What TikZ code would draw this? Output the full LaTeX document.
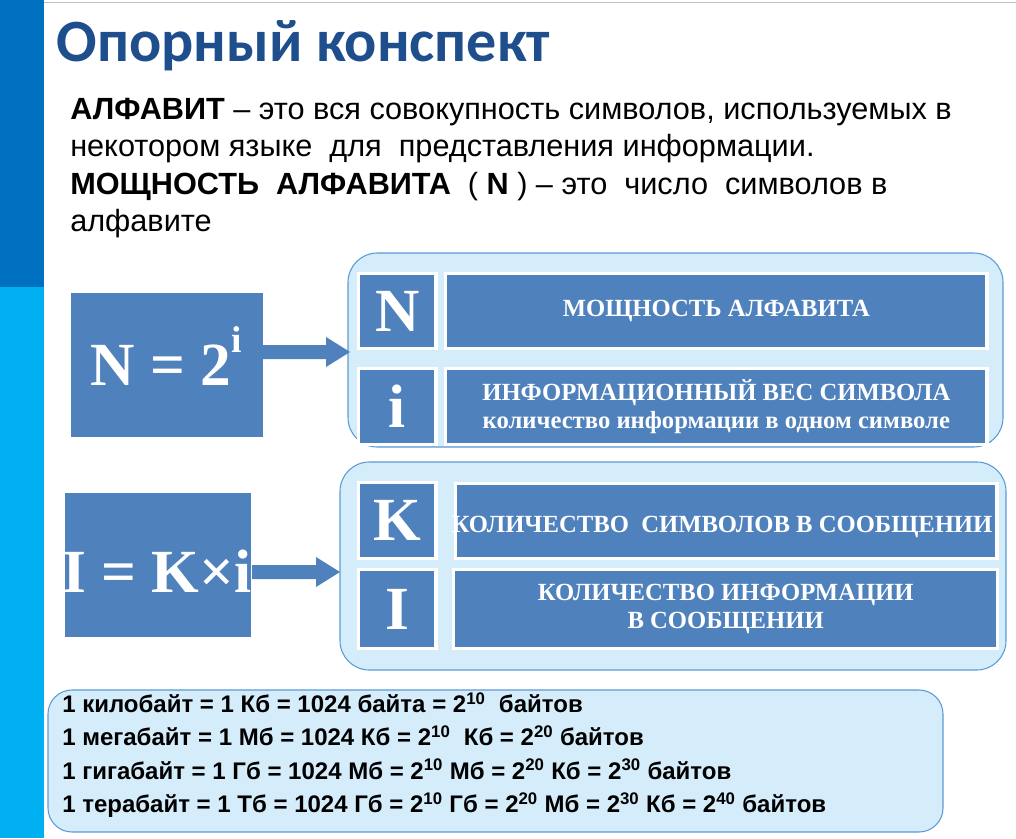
\documentclass[tikz,border=0pt]{standalone}
\usepackage{fontspec}
\setmainfont{Liberation Sans}
\newfontfamily\titlefont{Carlito}
\newfontfamily\boxfont{Liberation Serif}
\usetikzlibrary{shadows}
\definecolor{stripdark}{HTML}{0070C0}
\definecolor{striplight}{HTML}{00B0F0}
\definecolor{titleblue}{HTML}{1F4E8C}
\definecolor{boxblue}{HTML}{4F81BD}
\definecolor{groupfill}{HTML}{D5ECFA}
\definecolor{groupline}{HTML}{5B9BD5}
\begin{document}
\begin{tikzpicture}[x=0.75pt,y=-0.75pt,
  bluebox/.style={fill=boxblue,draw=white,line width=2.5pt,drop shadow={shadow xshift=1pt,shadow yshift=-1pt,opacity=0.3}},
  group/.style={fill=groupfill,draw=groupline,line width=0.8pt,rounded corners=22pt},
  letter/.style={text=white,font=\boxfont\bfseries\fontsize{46}{46}\selectfont},
  desc/.style={text=white,font=\boxfont\bfseries\fontsize{18.5}{21}\selectfont,align=center},
  fatarrow/.style={draw=none,fill=boxblue}]
  \useasboundingbox (0,0) rectangle (1016,838);
  \fill[white] (0,0) rectangle (1016,838);
  % side strip
  \fill[stripdark] (0,0) rectangle (44,287);
  \fill[striplight] (0,287) rectangle (44,838);
  \draw[gray!50] (44,2) -- (1016,2);
  % title and definitions
  \node[anchor=base west,text=titleblue,font=\titlefont\bfseries\fontsize{45}{45}\selectfont] (title) at (52,62) {Опорный конспект};
  \node[anchor=north west,align=left,font=\fontsize{23}{28}\selectfont,inner sep=0pt] (def) at (70,98)
    {\textbf{АЛФАВИТ} – это вся совокупность символов, используемых в\\
     некотором языке~ для~ представления информации.\\
     \textbf{МОЩНОСТЬ~ АЛФАВИТА}~ ( \textbf{N} ) – это~ число~ символов в\\
     алфавите};
  % groups
  \draw[group] (348,253) rectangle (1003,447);
  \draw[group] (340,462) rectangle (1006,670);
  % formulas
  \node[bluebox,minimum width=146pt,minimum height=110pt,anchor=north west,inner sep=0pt] (f1) at (68,290) {};
  \node[letter,inner sep=0pt] (f1t) at (166,356) {N = 2\raisebox{0.55em}{\fontsize{28}{28}\selectfont i}};
  \node[bluebox,minimum width=142pt,minimum height=110pt,anchor=north west,inner sep=0pt] (f2) at (62,490) {};
  \node[letter,inner sep=0pt] (f2t) at (157,571) {I = K×i};
  \fill[fatarrow] (262,345) -- (326,345) -- (326,337) -- (350,352) -- (326,367) -- (326,359) -- (262,359) -- cycle;
  \fill[fatarrow] (252,565) -- (316,565) -- (316,557) -- (340,572) -- (316,587) -- (316,579) -- (252,579) -- cycle;
  % letter boxes
  \node[bluebox,letter,minimum width=58pt,minimum height=56pt,anchor=north west,inner sep=0pt] (N) at (357,272) {N};
  \node[bluebox,letter,minimum width=58pt,minimum height=57pt,anchor=north west,inner sep=0pt] (i) at (357,367) {i};
  \node[bluebox,letter,minimum width=58pt,minimum height=57pt,anchor=north west,inner sep=0pt] (K) at (357,481) {K};
  \node[bluebox,letter,minimum width=58pt,minimum height=59pt,anchor=north west,inner sep=0pt] (I) at (357,568) {I};
  \node[bluebox,desc,minimum width=406pt,minimum height=56pt,anchor=north west] (Nd) at (444,272) {МОЩНОСТЬ АЛФАВИТА};
  \node[bluebox,desc,minimum width=406pt,minimum height=57pt,anchor=north west,inner sep=1pt] (id) at (444,367)
    {ИНФОРМАЦИОННЫЙ ВЕС СИМВОЛА\\количество информации в одном символе};
  \node[bluebox,desc,minimum width=406pt,minimum height=56pt,anchor=north west,inner sep=0pt] (Kd) at (454,482) {};
  \node[desc] (Kt) at (722,527) {КОЛИЧЕСТВО~ СИМВОЛОВ В СООБЩЕНИИ};
  \node[bluebox,desc,minimum width=408pt,minimum height=59pt,anchor=north west,inner sep=1pt] (Id) at (452,568) {КОЛИЧЕСТВО ИНФОРМАЦИИ\\В СООБЩЕНИИ};
  % units
  \draw[group,rounded corners=18pt] (48,690) rectangle (943,832);
  \node[anchor=north west,align=left,inner sep=0pt,font=\bfseries\fontsize{18}{25}\selectfont] (units) at (62,692)
    {1 килобайт = 1 Кб = 1024 байта = 2\textsuperscript{10}~ байтов\\
     1 мегабайт = 1 Мб = 1024 Кб = 2\textsuperscript{10}~ Кб = 2\textsuperscript{20} байтов\\
     1 гигабайт = 1 Гб = 1024 Мб = 2\textsuperscript{10} Мб = 2\textsuperscript{20} Кб = 2\textsuperscript{30} байтов\\
     1 терабайт = 1 Тб = 1024 Гб = 2\textsuperscript{10} Гб = 2\textsuperscript{20} Мб = 2\textsuperscript{30} Кб = 2\textsuperscript{40} байтов};
\end{tikzpicture}
\end{document}
